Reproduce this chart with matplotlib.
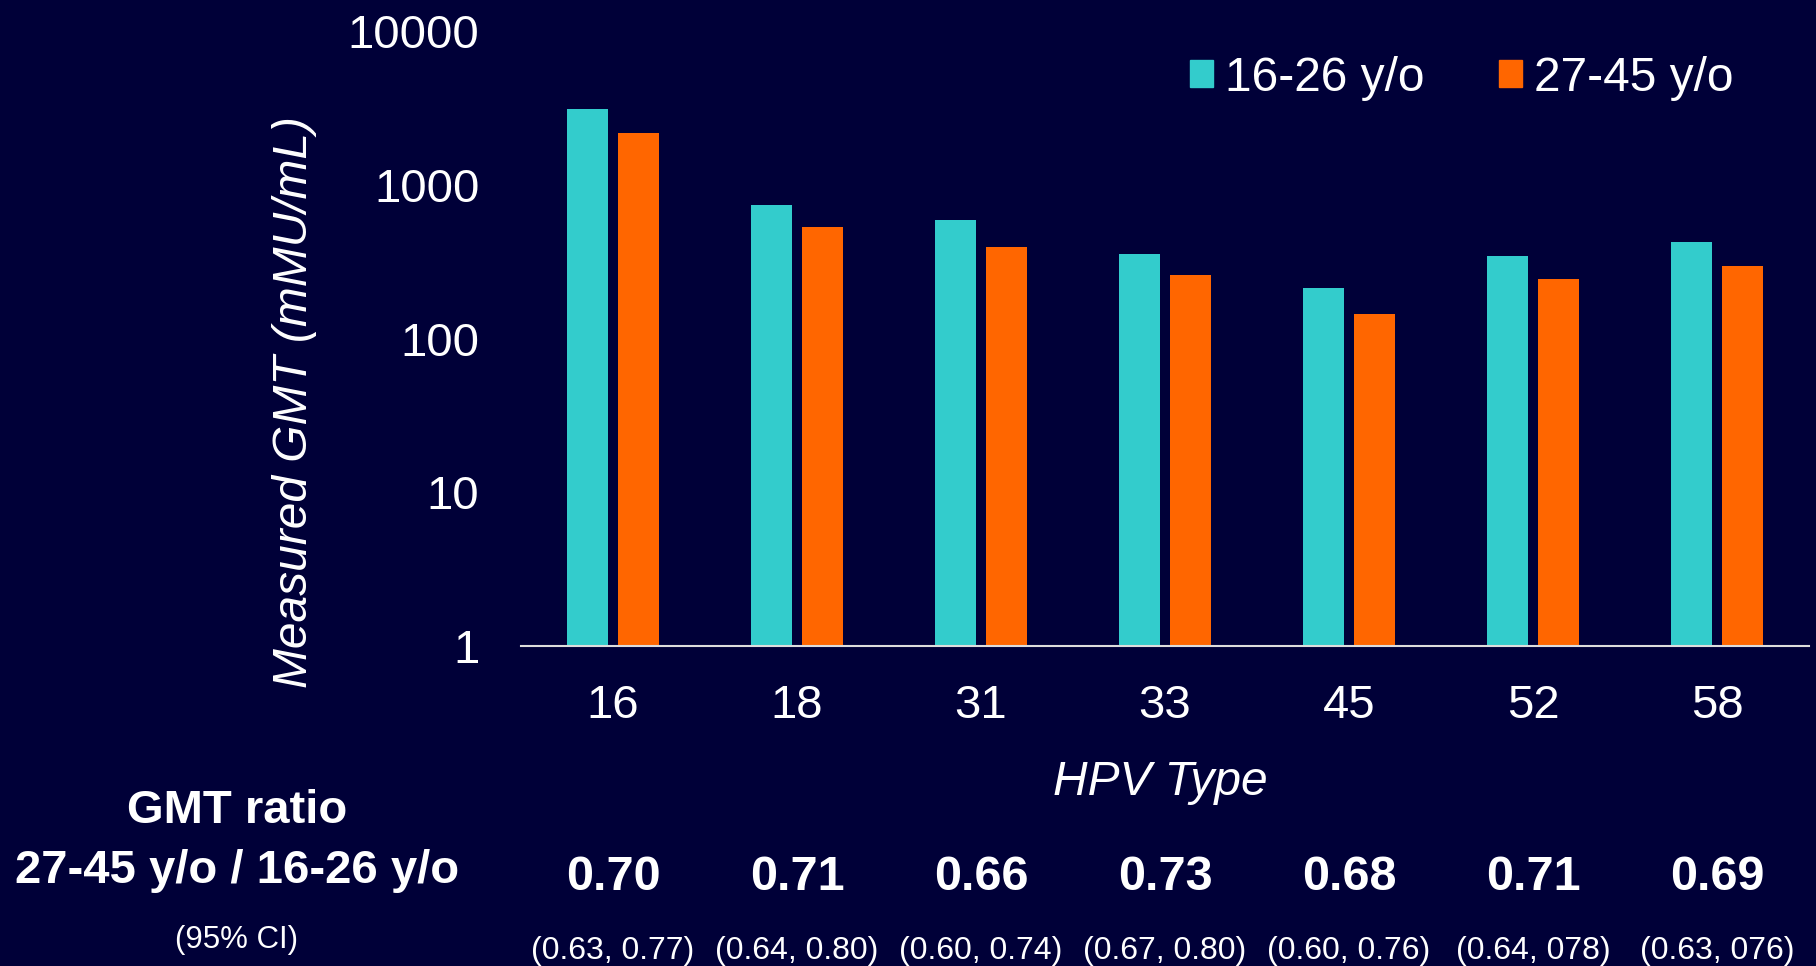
import numpy as np
import matplotlib
matplotlib.use("Agg")
import matplotlib.pyplot as plt
from matplotlib.patches import Patch

# HPV types and measured GMT (mMU/mL)
hpv_types = ['16', '18', '31', '33', '45', '52', '58']
gmt_16_26 = [3090, 743, 593, 352, 214, 346, 427]
gmt_27_45 = [2157, 529, 396, 257, 145, 243, 294]
ratios = ['0.70', '0.71', '0.66', '0.73', '0.68', '0.71', '0.69']
ci_labels = ['(0.63, 0.77)', '(0.64, 0.80)', '(0.60, 0.74)', '(0.67, 0.80)',
             '(0.60, 0.76)', '(0.64, 078)', '(0.63, 076)']
y_ticks = [1, 10, 100, 1000, 10000]

BG = '#000038'
TEAL = '#33CCCC'
ORANGE = '#FF6600'
W, H = 1816, 966

plt.rcParams['font.family'] = ['Liberation Sans', 'DejaVu Sans']

fig = plt.figure(figsize=(W / 100, H / 100), dpi=100, facecolor=BG)
# axes box in pixel coords: x 521..1809, y 31..646
ax = fig.add_axes([521 / W, (H - 646) / H, 1288 / W, 615 / H])
ax.set_facecolor(BG)

x = np.arange(len(hpv_types))
bw = 0.223
ax.bar(x - 0.14, gmt_16_26, width=bw, color=TEAL, label='16-26 y/o')
ax.bar(x + 0.14, gmt_27_45, width=bw, color=ORANGE, label='27-45 y/o')

ax.set_yscale('log')
ax.set_ylim(1, 10000)
ax.set_xlim(-0.5, len(hpv_types) - 0.5)
ax.set_yticks(y_ticks)
ax.set_yticklabels([str(v) for v in y_ticks])
ax.minorticks_off()
ax.set_xticks(x)
ax.set_xticklabels(hpv_types)
ax.tick_params(axis='y', length=0, pad=30, labelsize=34, colors='white')
ax.tick_params(axis='x', length=0, pad=27, labelsize=34, colors='white')

for s in ['top', 'right', 'left']:
    ax.spines[s].set_visible(False)
ax.spines['bottom'].set_color('#DDDDDD')
ax.spines['bottom'].set_linewidth(1.5)

ax.set_ylabel('Measured GMT (mMU/mL)', fontsize=34.5, style='italic', color='white')
ax.yaxis.set_label_coords(-0.158, 0.397)
ax.set_xlabel('HPV Type', fontsize=34.5, style='italic', color='white')
ax.xaxis.set_label_coords(0.496, -0.185)

handles = [Patch(color=TEAL, label='16-26 y/o'), Patch(color=ORANGE, label='27-45 y/o')]
leg = ax.legend(handles=handles, loc='upper right', bbox_to_anchor=(0.725, 1.03, 0.25, 0.0),
                ncol=2, frameon=False, fontsize=34.5, handlelength=0.48, handleheight=0.48,
                handletextpad=0.25, columnspacing=1.55, labelcolor='white')

# GMT ratio block below the chart
fig.text(237 / W, 1 - 811 / H, 'GMT ratio', ha='center', va='center',
         fontsize=34, fontweight='bold', color='white')
fig.text(237 / W, 1 - 871 / H, '27-45 y/o / 16-26 y/o', ha='center', va='center',
         fontsize=34, fontweight='bold', color='white')
fig.text(237 / W, 1 - 940 / H, '(95% CI)', ha='center', va='center',
         fontsize=22.5, color='white')

for i, (r, ci) in enumerate(zip(ratios, ci_labels)):
    xc = ax.transData.transform((i, 1))[0] / W
    fig.text(xc, 1 - 878 / H, r, ha='center', va='center',
             fontsize=35, fontweight='bold', color='white')
    fig.text(xc, 1 - 951 / H, ci, ha='center', va='center',
             fontsize=23, color='white')

fig.savefig('out.png', dpi=100, facecolor=BG)
